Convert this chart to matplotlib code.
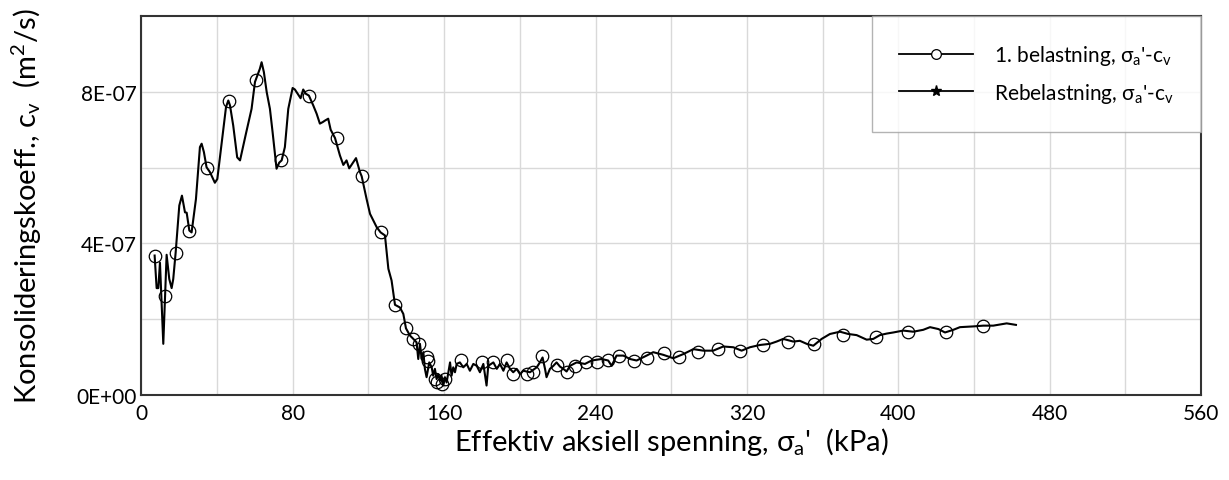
import numpy as np
import matplotlib.pyplot as plt
from matplotlib.ticker import FuncFormatter, MultipleLocator
from matplotlib.lines import Line2D

plt.rcParams['font.family'] = ['Lato', 'DejaVu Sans']
plt.rcParams['mathtext.fontset'] = 'custom'
plt.rcParams['mathtext.rm'] = 'Lato'
plt.rcParams['mathtext.it'] = 'Lato'

# 1. belastning: line data (kPa, cv in 1e-7 m2/s)
sigma = [6.96, 8.02, 8.9, 9.78, 11.54, 13.3, 14.7, 15.95, 16.8, 18.06, 20.0, 21.4, 23.0, 23.9,
         25.3, 26.5, 28.8, 30.9, 31.8, 33.0, 34.4, 36.2, 38.8, 40.1, 42.9, 44.7, 45.9, 46.8,
         48.5, 50.6, 52.1, 55.2, 58.2, 60.0, 62.6, 63.5, 64.7, 66.2, 67.9, 69.3, 71.4, 72.8,
         74.1, 75.8, 77.6, 79.9, 81.1, 84.1, 85.5, 86.8, 88.5, 90.8, 92.6, 94.3, 95.8, 97.0,
         98.7, 100.0, 102.3, 104.9, 106.7, 108.4, 109.8, 113.4, 115.5, 116.4, 119.0, 120.8,
         124.3, 126.4, 128.7, 130.5, 132.2, 134.0, 136.6, 138.4, 139.8, 141.9, 143.7, 145.4,
         146.3, 147.2, 148.1, 149.0, 149.8, 150.7, 152.1, 153.4, 154.2, 155.1, 156.0, 156.9,
         157.8, 158.6, 159.5, 160.4, 161.3, 162.2, 163.1, 163.9, 164.8, 165.7, 166.6, 168.3,
         170.1, 171.9, 173.6, 175.4, 177.2, 178.9, 180.7, 182.4, 183.3, 186.0, 187.8, 189.5,
         191.3, 193.0, 194.8, 196.5, 198.3, 200.1, 201.8, 205.3, 208.9, 210.6, 212.0, 213.3,
         214.1, 215.9, 217.7, 219.4, 221.2, 223.0, 224.7, 226.5, 230.0, 234.4, 237.9, 243.2,
         246.7, 248.5, 251.1, 254.7, 258.2, 261.7, 267.0, 270.5, 275.8, 281.1, 286.4, 291.7,
         297.0, 302.2, 307.5, 312.8, 317.2, 321.6, 326.9, 332.2, 335.7, 339.2, 344.5, 348.0,
         351.6, 355.1, 359.5, 363.9, 369.2, 373.6, 378.0, 383.3, 386.8, 390.3, 393.8, 397.4,
         402.6, 407.9, 413.2, 416.8, 421.2, 424.7, 429.1, 432.6, 439.7, 444.9, 450.2, 457.3,
         462.2]
cv = [3.68, 2.82, 2.82, 3.49, 1.35, 3.70, 3.06, 2.82, 3.06, 3.75, 5.00, 5.26, 4.82, 4.81,
      4.34, 4.29, 5.17, 6.54, 6.63, 6.41, 6.01, 5.88, 5.60, 5.70, 6.85, 7.60, 7.77, 7.64,
      7.11, 6.27, 6.19, 6.89, 7.55, 8.26, 8.61, 8.78, 8.52, 7.99, 7.55, 6.94, 5.97, 6.13,
      6.19, 6.54, 7.55, 8.10, 8.06, 7.83, 8.06, 7.95, 7.90, 7.64, 7.42, 7.16, 7.20, 7.24,
      7.29, 7.00, 6.78, 6.32, 6.07, 6.19, 5.98, 6.25, 5.88, 5.77, 5.17, 4.78,
      4.43, 4.29, 4.21, 3.33, 3.02, 2.38, 2.31, 2.14, 1.76, 1.57, 1.48, 1.39,
      0.95, 1.35, 0.95, 1.13, 0.69, 0.47, 0.86, 0.73, 0.51, 0.69, 0.42, 0.55,
      0.38, 0.51, 0.25, 0.47, 0.33, 0.60, 0.86, 0.51, 0.73, 0.60, 0.82, 0.86,
      0.73, 0.82, 0.64, 0.82, 0.77, 0.60, 0.82, 0.25, 0.77, 0.86, 0.69, 0.82,
      0.64, 0.86, 0.69, 0.60, 0.69, 0.55, 0.64, 0.60, 0.73, 0.86, 0.99, 0.69,
      0.47, 0.69, 0.77, 0.86, 0.75, 0.69, 0.62, 0.77, 0.86, 0.82, 0.91, 0.95,
      0.91, 0.77, 1.04, 1.04, 0.95, 0.91, 1.04, 1.13, 1.06, 0.97, 1.08, 1.21,
      1.17, 1.17, 1.28, 1.26, 1.17, 1.26, 1.32, 1.35, 1.41, 1.48, 1.41, 1.43,
      1.35, 1.30, 1.48, 1.61, 1.67, 1.61, 1.58, 1.46, 1.48, 1.58, 1.62, 1.65,
      1.70, 1.67, 1.72, 1.79, 1.74, 1.65, 1.72, 1.79, 1.81, 1.83, 1.83, 1.89,
      1.85]

# marked points of the same series
sigma_mark = [6.96, 12.25, 18.06, 25.3, 34.8, 46.1, 60.5, 73.9, 88.5, 103.2, 116.4, 126.4,
              134.0, 139.8, 143.5, 146.8, 150.7, 151.6, 155.1, 156.4, 158.7, 160.4, 168.7,
              179.8, 186.0, 193.0, 196.5, 203.6, 207.1, 211.5, 219.5, 224.7, 229.1, 234.9,
              240.6, 246.7, 252.5, 260.5, 267.0, 276.2, 284.3, 294.3, 304.5, 316.3, 328.5,
              341.9, 355.4, 370.9, 388.0, 405.3, 425.0, 444.9]
cv_mark = [3.68, 2.62, 3.75, 4.34, 5.98, 7.77, 8.30, 6.19, 7.90, 6.78, 5.77, 4.29,
           2.38, 1.76, 1.48, 1.35, 1.01, 0.91, 0.42, 0.33, 0.29, 0.42, 0.93,
           0.86, 0.88, 0.93, 0.55, 0.55, 0.60, 1.04, 0.80, 0.60, 0.77, 0.86,
           0.88, 0.93, 1.02, 0.91, 0.97, 1.11, 1.00, 1.14, 1.21, 1.17, 1.32,
           1.41, 1.35, 1.57, 1.52, 1.65, 1.65, 1.83]

# Rebelastning: no points in this test
sigma_re = []
cv_re = []

label1 = "1. belastning, σ$_\\mathrm{a}$'-c$_\\mathrm{v}$"
label2 = "Rebelastning, σ$_\\mathrm{a}$'-c$_\\mathrm{v}$"

fig = plt.figure(figsize=(12.29, 4.81), dpi=100)
ax = fig.add_axes([0.1151, 0.1767, 0.8621, 0.788])

ax.plot(sigma, np.array(cv) * 1e-7, color='black', lw=1.5, zorder=3)
ax.plot(sigma_mark, np.array(cv_mark) * 1e-7, ls='none', marker='o', ms=9,
        mfc='none', mec='black', mew=0.9, zorder=4)
ax.plot(sigma_re, cv_re, color='black', lw=1.5, marker='*')

ax.set_xlim(0, 560)
ax.set_ylim(0, 1e-6)
ax.xaxis.set_major_locator(MultipleLocator(80))
ax.xaxis.set_minor_locator(MultipleLocator(40))
ax.set_yticks([0, 4e-7, 8e-7])
ax.set_yticks([2e-7, 6e-7], minor=True)
ax.yaxis.set_major_formatter(FuncFormatter(lambda v, p: f"{v:.0E}"))
ax.grid(True, which='both', color='#d9d9d9', lw=1)
ax.set_axisbelow(True)
ax.tick_params(which='both', length=0, labelsize=15)
ax.tick_params(axis='x', pad=6)
ax.tick_params(axis='y', pad=3.5)
for s in ax.spines.values():
    s.set_color('#333333')
    s.set_linewidth(1.5)

ax.set_xlabel("Effektiv aksiell spenning, σ$_\\mathrm{a}$'  (kPa)", fontsize=21, labelpad=1)
ax.set_ylabel("Konsolideringskoeff., c$_\\mathrm{v}$  (m$^\\mathrm{2}$/s)", fontsize=21,
              labelpad=23)

handles = [Line2D([], [], color='black', lw=1.3, marker='o', ms=7, mfc='white', mew=0.9),
           Line2D([], [], color='black', lw=1.3, marker='*', ms=8)]
leg = ax.legend(handles, [label1, label2], loc='upper right', fontsize=15,
                borderaxespad=0, frameon=True, fancybox=False, handlelength=3.55,
                handletextpad=1.0, borderpad=1.3, labelspacing=0.65)
leg.get_frame().set_edgecolor('#a0a0a0')
leg.get_frame().set_linewidth(1)

plt.savefig('out.png', dpi=100)
